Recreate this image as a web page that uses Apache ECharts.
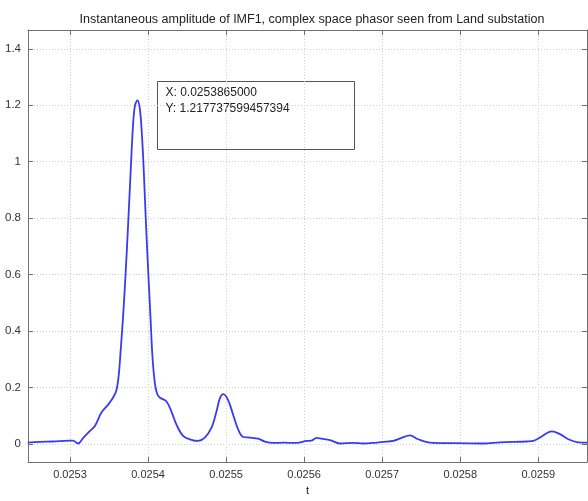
<!DOCTYPE html>
<html>
<head>
<meta charset="utf-8">
<script src="https://cdn.jsdelivr.net/npm/echarts@6/dist/echarts.min.js"></script>
<style>html,body{margin:0;padding:0;background:#fff}#c{width:588px;height:501px}</style>
</head>
<body>
<div id="c"></div>
<script>
var titleText = 'Instantaneous amplitude of IMF1, complex space phasor seen from Land substation';
var xName = 't';
var xTicks = [0.0253, 0.0254, 0.0255, 0.0256, 0.0257, 0.0258, 0.0259];
var yTicks = [0, 0.2, 0.4, 0.6, 0.8, 1, 1.2, 1.4];
var tValues = [0.0252458, 0.0252612, 0.0252782, 0.0252996, 0.02530385, 0.0253103, 0.0253167, 0.0253253, 0.0253317, 0.0253403, 0.0253487, 0.0253551, 0.0253595, 0.0253624, 0.025365, 0.025368, 0.0253714, 0.0253744, 0.0253778, 0.0253808, 0.0253833, 0.0253865, 0.0253894, 0.0253919, 0.0253945, 0.0253971, 0.0254, 0.0254031, 0.0254056, 0.0254086, 0.0254115, 0.025415, 0.0254236, 0.02543, 0.0254364, 0.0254449, 0.0254556, 0.0254641, 0.0254727, 0.0254813, 0.0254877, 0.0254919, 0.0254964, 0.0255026, 0.025509, 0.0255154, 0.0255218, 0.0255304, 0.025541, 0.0255496, 0.0255603, 0.0255731, 0.0255903, 0.0256031, 0.0256095, 0.0256159, 0.0256223, 0.025633, 0.0256458, 0.0256628, 0.0256756, 0.0256885, 0.0257013, 0.0257141, 0.0257249, 0.0257355, 0.0257462, 0.0257612, 0.025791, 0.0258295, 0.0258509, 0.0258851, 0.0258936, 0.0259044, 0.0259172, 0.0259278, 0.0259385, 0.0259492, 0.0259624];
var ampValues = [0.004, 0.007, 0.008, 0.011, 0.011, 0.001, 0.020, 0.045, 0.062, 0.111, 0.138, 0.163, 0.190, 0.242, 0.334, 0.45, 0.611, 0.773, 0.97, 1.131, 1.20, 1.2177376, 1.19, 1.108, 0.97, 0.796, 0.623, 0.45, 0.311, 0.218, 0.178, 0.164, 0.150, 0.114, 0.068, 0.028, 0.014, 0.010, 0.022, 0.057, 0.114, 0.160, 0.176, 0.155, 0.103, 0.051, 0.024, 0.022, 0.018, 0.008, 0.003, 0.004, 0.003, 0.010, 0.011, 0.021, 0.018, 0.013, 0.001, 0.003, 0.001, 0.003, 0.007, 0.010, 0.021, 0.030, 0.016, 0.004, 0.002, 0.001, 0.005, 0.008, 0.010, 0.026, 0.044, 0.034, 0.016, 0.006, 0.004];
var cursorX = '0.0253865000';
var cursorY = '1.217737599457394';
var xMin = 0.0252462, xMax = 0.0259624, yMin = -0.065, yMax = 1.467;

var data = tValues.map(function (t, i) { return [t, ampValues[i]]; });
var font = '"Liberation Sans", Arial, sans-serif';
var axisColor = '#707070';
var chart = echarts.init(document.getElementById('c'), null, {renderer: 'canvas'});

function xAx(pos, showLabels) {
  return {
    type: 'value', position: pos, min: xMin, max: xMax,
    name: showLabels ? xName : '', nameLocation: 'middle', nameGap: 18,
    nameTextStyle: {color: '#222', fontSize: 11, fontFamily: font},
    axisLine: {show: true, onZero: false, lineStyle: {color: axisColor, width: 1}},
    axisTick: {show: true, inside: true, length: 5, customValues: xTicks, lineStyle: {color: axisColor}},
    axisLabel: {show: showLabels, customValues: xTicks, margin: 7, color: '#333', fontSize: 11, fontFamily: font,
      formatter: function (v) { return Number(v).toFixed(4); }},
    splitLine: {show: showLabels, lineStyle: {color: '#cfcfcf', type: [1, 2], width: 1}}
  };
}
function yAx(pos, showLabels) {
  return {
    type: 'value', position: pos, min: yMin, max: yMax,
    axisLine: {show: true, onZero: false, lineStyle: {color: axisColor, width: 1}},
    axisTick: {show: true, inside: true, length: 5, customValues: yTicks, lineStyle: {color: axisColor}},
    axisLabel: {show: showLabels, customValues: yTicks, margin: 7, color: '#333', fontSize: 11.5, fontFamily: font,
      formatter: function (v) { return String(Math.round(v * 10) / 10); }},
    splitLine: {show: showLabels, lineStyle: {color: '#cfcfcf', type: [1, 2], width: 1}}
  };
}

chart.setOption({
  animation: false,
  backgroundColor: '#fff',
  title: {
    text: titleText, left: 307, top: 8, textAlign: 'center',
    textStyle: {fontSize: 12.5, fontWeight: 'normal', color: '#222', fontFamily: font}
  },
  grid: {left: 28, right: 1, top: 30, bottom: 29, containLabel: false},
  xAxis: [xAx('bottom', true), xAx('top', false)],
  yAxis: [yAx('left', true), yAx('right', false)],
  series: [{
    type: 'line', data: data, xAxisIndex: 0, yAxisIndex: 0,
    showSymbol: false, smooth: 0.35, clip: true,
    lineStyle: {color: '#3a3af2', width: 1.8}
  }],
  graphic: [{
    type: 'group', left: 157, top: 81,
    children: [
      {type: 'rect', shape: {x: 0, y: 0, width: 197, height: 68}, style: {fill: '#fff', stroke: '#555', lineWidth: 1}},
      {type: 'text', x: 8, y: 3, style: {text: 'X: ' + cursorX + '\nY: ' + cursorY, fill: '#222', font: '12px ' + font, lineHeight: 16}}
    ]
  }]
});
</script>
</body>
</html>
